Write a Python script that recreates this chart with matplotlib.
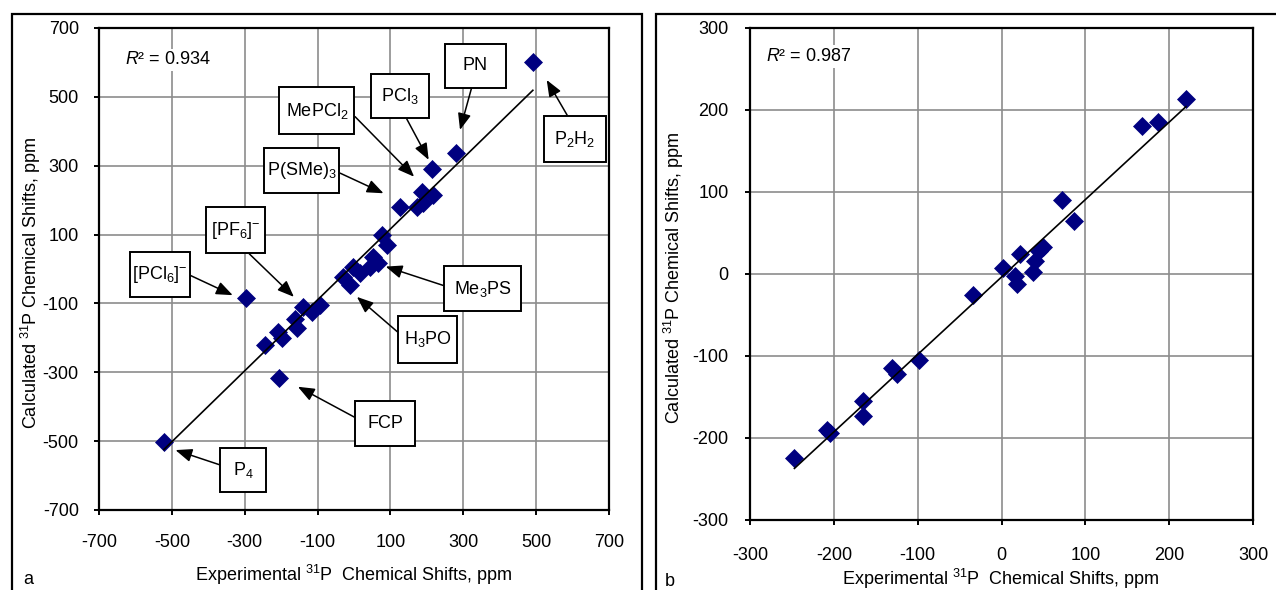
import numpy as np
import matplotlib
matplotlib.use("Agg")
import matplotlib.pyplot as plt
from matplotlib.path import Path
from matplotlib.lines import Line2D

plt.rcParams['font.family'] = ['Liberation Sans', 'DejaVu Sans']
plt.rcParams['mathtext.fontset'] = 'custom'
plt.rcParams['mathtext.rm'] = 'Liberation Sans'
plt.rcParams['mathtext.it'] = 'Liberation Sans:italic'
plt.rcParams['mathtext.bf'] = 'Liberation Sans:bold'
plt.rcParams['axes.unicode_minus'] = False

# ---------------- data ----------------
# panel a: experimental vs calculated 31P chemical shifts (ppm)
exp_a = [491, 280, 213, 186, 218, 190, 172, 126, 76, 90, 53, 67, 44, -2, 16,
         -29, -11, -296, -139, -93, -116, -162, -157, -208, -198, -244, -205, -522]
calc_a = [601, 338, 290, 224, 215, 191, 181, 181, 99, 70, 36, 17, 7, 7, -13,
          -22, -47, -85, -110, -105, -124, -146, -172, -182, -201, -221, -318, -503]
r2_a = "0.934"

# panel b
exp_b = [220, 187, 168, 72, 87, 50, 45, 40, 37, 22, 2, 16, 19, -34, -99,
         -131, -125, -165, -165, -208, -205, -247]
calc_b = [213, 185, 180, 90, 65, 33, 28, 16, 3, 25, 7, -3, -12, -25, -105,
          -115, -122, -155, -173, -190, -194, -224]
r2_b = "0.987"

ticks_a = [-700, -500, -300, -100, 100, 300, 500, 700]
ticks_b = [-300, -200, -100, 0, 100, 200, 300]

# annotation labels (panel a)
labels = ["PN", "PCl$_3$", "MePCl$_2$", "P(SMe)$_3$", "[PF$_6$]$^{-}$",
          "[PCl$_6$]$^{-}$", "Me$_3$PS", "H$_3$PO", "FCP", "P$_4$", "P$_2$H$_2$"]
# layout: arrow head (data), box centre (data), arrow start on box (relpos), box size px
heads = [(291, 404), (205, 317), (165, 268), (81, 220), (-165, -81),
         (-333, -76), (87, 7), (8, -81), (-154, -342), (-490, -526), (529, 549)]
centres = [(333, 590), (126, 502), (-102, 460), (-143, 286), (-325, 113),
           (-533, -15), (354, -58), (202, -204), (85, -450), (-305, -584), (607, 378)]
relposes = [(0.5, 0), (0.5, 0), (1, 0.55), (1, 0.45), (0.5, 0),
            (1, 0.5), (0, 0.5), (0, 0.6), (0, 0.5), (0, 0.55), (0.5, 1)]
boxsizes = [(61, 44), (58, 44), (75, 47), (75, 45), (59, 46),
            (60, 45), (77, 45), (59, 47), (60, 45), (46, 44), (62, 46)]

# ---------------- style ----------------
W, H = 1276, 590
NAVY = '#000080'
GRID = '#8c8c8c'
FS = 13

fig = plt.figure(figsize=(W / 100, H / 100), dpi=100)


def fixed_box(w, h):
    def style(x0, y0, width, height, mutation_size):
        cx = x0 + width / 2.0
        cy = y0 + height / 2.0
        verts = [(cx - w / 2, cy - h / 2), (cx + w / 2, cy - h / 2),
                 (cx + w / 2, cy + h / 2), (cx - w / 2, cy + h / 2),
                 (cx - w / 2, cy - h / 2)]
        codes = [Path.MOVETO, Path.LINETO, Path.LINETO, Path.LINETO, Path.CLOSEPOLY]
        return Path(verts, codes)
    return style


def setup(ax, ticks, lim, xpad, ypad):
    ax.set_xlim(-lim, lim)
    ax.set_ylim(-lim, lim)
    ax.set_xticks(ticks)
    ax.set_yticks(ticks)
    ax.grid(True, color=GRID, lw=1.2, zorder=0)
    ax.set_axisbelow(True)
    for s in ax.spines.values():
        s.set_linewidth(1.6)
        s.set_color('black')
    ax.tick_params(axis='x', direction='out', length=3.5, width=1.4, pad=xpad,
                   labelsize=FS, top=False)
    ax.tick_params(axis='y', direction='out', length=3.5, width=1.4, pad=ypad,
                   labelsize=FS, right=False)


def scatter_fit(ax, x, y):
    x = np.asarray(x, float)
    y = np.asarray(y, float)
    k, b = np.polyfit(x, y, 1)
    xs = np.array([x.min(), x.max()])
    ax.plot(xs, k * xs + b, color='black', lw=1.2, zorder=3)
    ax.plot(x, y, linestyle='none', marker='D', ms=9.3, mfc=NAVY, mec=NAVY,
            mew=0.5, zorder=2)


# panel a
ax_a = fig.add_axes([99 / W, 80 / H, 510 / W, 482 / H])
setup(ax_a, ticks_a, 700, 14, 11)
scatter_fit(ax_a, exp_a, calc_a)
ax_a.text(0.051, 0.934, "$R$² = " + r2_a, transform=ax_a.transAxes, fontsize=FS,
          ha='left', va='center', zorder=5,
          bbox=dict(boxstyle='square,pad=0.15', fc='white', ec='none'))
ax_a.set_xlabel("Experimental $^{31}$P  Chemical Shifts, ppm", fontsize=FS)
ax_a.set_ylabel("Calculated $^{31}$P Chemical Shifts, ppm", fontsize=FS)
ax_a.xaxis.set_label_coords((354 - 99) / 510, (510 - 575) / 482)
ax_a.xaxis.label.set_va('center')
ax_a.yaxis.set_label_coords((31 - 99) / 510, (510 - 283) / 482)
ax_a.yaxis.label.set_va('center')

for lab, hd, ct, rp, bs in zip(labels, heads, centres, relposes, boxsizes):
    ax_a.annotate(lab, xy=hd, xytext=ct, xycoords='data', textcoords='data',
                  ha='center', va='center', fontsize=FS, zorder=6,
                  bbox=dict(boxstyle=fixed_box(*bs), fc='white', ec='black', lw=1.4),
                  arrowprops=dict(arrowstyle='-|>,head_length=1.0,head_width=0.4',
                                  mutation_scale=10, color='black', lw=1.1,
                                  shrinkA=0, shrinkB=0, relpos=rp),
                  annotation_clip=False)

# panel b
ax_b = fig.add_axes([750 / W, 70 / H, 503 / W, 492 / H])
setup(ax_b, ticks_b, 300, 16, 12)
scatter_fit(ax_b, exp_b, calc_b)
ax_b.text(0.031, 0.942, "$R$² = " + r2_b, transform=ax_b.transAxes, fontsize=FS,
          ha='left', va='center', zorder=5,
          bbox=dict(boxstyle='square,pad=0.15', fc='white', ec='none'))
ax_b.set_xlabel("Experimental $^{31}$P  Chemical Shifts, ppm", fontsize=FS)
ax_b.set_ylabel("Calculated $^{31}$P Chemical Shifts, ppm", fontsize=FS)
ax_b.xaxis.set_label_coords((1001 - 750) / 503, (520 - 579) / 492)
ax_b.xaxis.label.set_va('center')
ax_b.yaxis.set_label_coords((674 - 750) / 503, (520 - 278) / 492)
ax_b.yaxis.label.set_va('center')

# panel letters
fig.text(28.5 / W, 1 - 580 / H, "a", fontsize=FS, ha='center', va='center')
fig.text(670 / W, 1 - 581 / H, "b", fontsize=FS, ha='center', va='center')


# outer frames
def fl(xs, ys):
    fig.add_artist(Line2D([x / W for x in xs], [1 - y / H for y in ys],
                          transform=fig.transFigure, color='black', lw=1.6,
                          solid_joinstyle='miter'))


fl([12, 12, 642, 642], [595, 14, 14, 595])
fl([656, 656, 1280], [595, 14, 14])

fig.savefig("out.png", dpi=100)
